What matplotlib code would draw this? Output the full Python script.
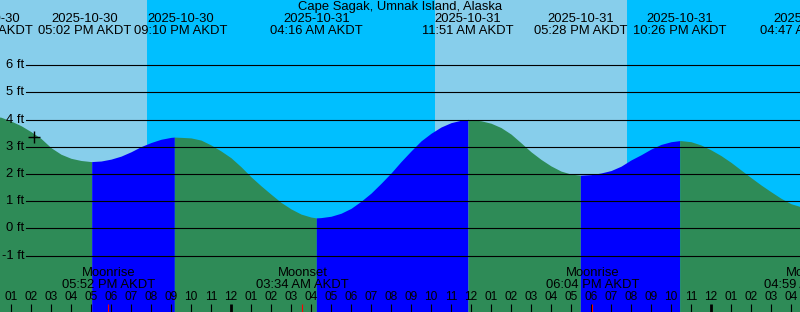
import matplotlib
matplotlib.use("Agg")
import matplotlib.pyplot as plt
import matplotlib.transforms as mtransforms
import numpy as np
import pandas as pd

plt.rcParams['font.family'] = ['Liberation Sans', 'DejaVu Sans']
plt.rcParams['font.size'] = 9.4

title = "Cape Sagak, Umnak Island, Alaska"
tz_name = "AKDT"
origin = pd.Timestamp("2025-10-31 00:00")

# tide extremes (the first and last lie just outside the window)
tide_event_times = ["2025-10-30 11:48", "2025-10-30 17:02", "2025-10-30 21:10",
                    "2025-10-31 04:16", "2025-10-31 11:51", "2025-10-31 17:28",
                    "2025-10-31 22:26", "2025-11-01 04:47"]
tide_event_heights = [4.15, 2.46, 3.36, 0.39, 4.01, 1.96, 3.23, 0.78]
tide_event_kinds = ["high", "low", "high", "low", "high", "low", "high", "low"]

# tide level read every 30 minutes, from 2025-10-30 12:30
tide_start = "2025-10-30 12:30"
tide_heights = [4.09, 3.95, 3.78, 3.56, 3.31, 2.97, 2.73, 2.58, 2.50, 2.46,
                2.48, 2.55, 2.66, 2.82, 3.01, 3.16, 3.28, 3.35, 3.35, 3.33,
                3.25, 3.07, 2.85, 2.60, 2.27, 1.90, 1.57, 1.26, 0.96, 0.72,
                0.53, 0.42, 0.40, 0.45, 0.56, 0.74, 1.00, 1.30, 1.66, 2.04,
                2.46, 2.85, 3.22, 3.50, 3.73, 3.89, 3.98, 4.00, 3.96, 3.87,
                3.71, 3.47, 3.15, 2.82, 2.54, 2.30, 2.11, 2.00, 1.96, 1.98,
                2.04, 2.13, 2.29, 2.52, 2.71, 2.92, 3.09, 3.19, 3.23, 3.19,
                3.07, 2.89, 2.68, 2.43, 2.15, 1.87, 1.60, 1.35, 1.11, 0.91,
                0.80]

sun_event_times = ["2025-10-30 19:48", "2025-10-31 10:12", "2025-10-31 19:48"]
sun_event_kinds = ["sunset", "sunrise", "sunset"]

moon_event_times = ["2025-10-30 17:52", "2025-10-31 03:34",
                    "2025-10-31 18:04", "2025-11-01 04:59"]
moon_event_kinds = ["Moonrise", "Moonset", "Moonrise", "Moonset"]

now_time = "2025-10-30 14:09"
now_height = 3.37

y_ticks = [-1, 0, 1, 2, 3, 4, 5, 6]


def hours(ts):
    return (pd.to_datetime(ts) - origin) / pd.Timedelta(hours=1)


W, H = 800, 312
x0, x1 = -11.55, 28.45
y0, y1 = -3.07, 8.40

fig = plt.figure(figsize=(W / 100, H / 100), dpi=100)
ax = fig.add_axes([0, 0, 1, 1])
ax.set_xlim(x0, x1)
ax.set_ylim(y0, y1)
ax.axis('off')
data_x = mtransforms.blended_transform_factory(ax.transData, ax.transAxes)
data_y = mtransforms.blended_transform_factory(ax.transAxes, ax.transData)

# sky: day / night
bounds = [x0] + list(hours(sun_event_times)) + [x1]
is_day = sun_event_kinds[0] == "sunset"
for a, b in zip(bounds[:-1], bounds[1:]):
    ax.axvspan(a, b, color="#87CEEB" if is_day else "#00BFFF", lw=0, zorder=0)
    is_day = not is_day

# water: blue while rising, green while falling
ev_t = np.array(hours(tide_event_times))
read_t = np.array(hours(pd.date_range(tide_start, periods=len(tide_heights), freq="30min")))
tt = np.concatenate([read_t, ev_t])
hh = np.concatenate([tide_heights, tide_event_heights])
order = np.argsort(tt)
tt, hh = tt[order], hh[order]
for i in range(len(ev_t) - 1):
    m = (tt >= ev_t[i]) & (tt <= ev_t[i + 1])
    col = "#0000FF" if tide_event_kinds[i] == "low" else "#2E8B57"
    ax.fill_between(tt[m], hh[m], y0, color=col, lw=0, antialiased=False, zorder=1)

# height grid
for v in y_ticks:
    ax.axhline(v, xmin=26 / W, xmax=1, color="black", lw=0.8, zorder=2)
    ax.text(24.5 / W, v, f"{v} ft", transform=data_y, ha="right", va="center", zorder=3)

ax.plot(hours(now_time), now_height, marker="+", ms=9, mew=1, color="black", zorder=3)

# title and tide event labels
ax.text(0.5, 1 - 7 / H, title, transform=ax.transAxes, ha="center", va="center")
centers = list(ev_t)
min_sep = 4.8
for i in range(len(centers) - 1):
    d = centers[i + 1] - centers[i]
    if d < min_sep:
        centers[i] -= (min_sep - d) / 2
        centers[i + 1] += (min_sep - d) / 2
for c, ts in zip(centers, pd.to_datetime(tide_event_times)):
    ax.text(c, 1 - 19.5 / H, ts.strftime("%Y-%m-%d"), transform=data_x, ha="center", va="center")
    ax.text(c, 1 - 31.5 / H, ts.strftime("%I:%M %p ") + tz_name, transform=data_x,
            ha="center", va="center")

# moon events
for ts, kind in zip(pd.to_datetime(moon_event_times), moon_event_kinds):
    mx = hours(ts)
    ax.text(mx, (H - 273.5) / H, kind, transform=data_x, ha="center", va="center")
    ax.text(mx, (H - 285.5) / H, ts.strftime("%I:%M %p ") + tz_name, transform=data_x,
            ha="center", va="center")
    ax.vlines(mx, 0, 8 / H, transform=data_x, color="red", lw=0.8, zorder=3)

# hour ticks
for h in range(int(np.ceil(x0)), int(np.floor(x1)) + 1):
    lab = f"{(h - 1) % 12 + 1:02d}"
    ax.text(h, (H - 297.5) / H, lab, transform=data_x, ha="center", va="center",
            fontsize=8.6, zorder=3)
    ax.vlines(h, 0, 8 / H, transform=data_x, color="black",
              lw=2 if h % 24 == 0 else 0.8, zorder=3)

fig.savefig("out.png", dpi=100)
